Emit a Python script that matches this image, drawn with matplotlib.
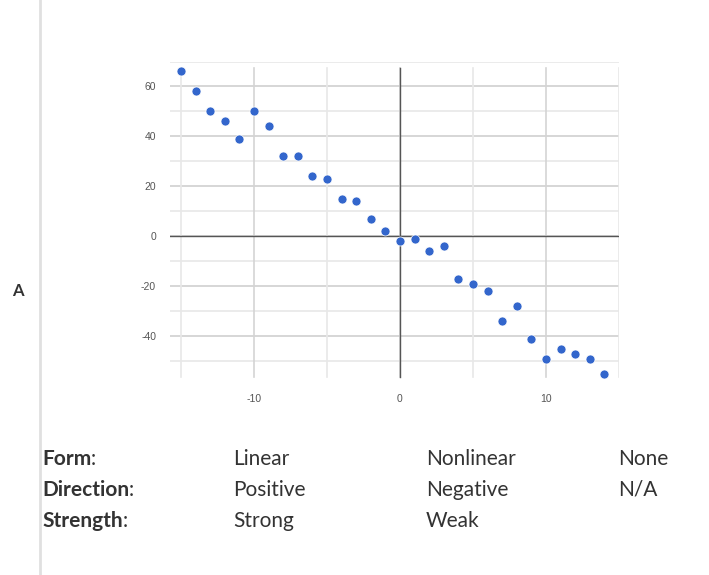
import matplotlib.pyplot as plt
import numpy as np

plt.rcParams['axes.unicode_minus'] = False

# scatter data
x_vals = list(range(-15, 15))
y_vals = [66, 58, 50, 46, 39, 50, 44, 32, 32, 24, 23, 15, 14, 7, 2,
          -2, -1, -6, -4, -17, -19, -22, -34, -28, -41, -49, -45, -47, -49, -55]

y_ticks = [-40, -20, 0, 20, 40, 60]
x_ticks = [-10, 0, 10]

row_labels = ['Form', 'Direction', 'Strength']
choices = [['Linear', 'Nonlinear', 'None'],
           ['Positive', 'Negative', 'N/A'],
           ['Strong', 'Weak', '']]

W, H = 709, 575
fig = plt.figure(figsize=(W / 100, H / 100), dpi=100)

# axes placed in pixel terms
left, right, top, bottom = 170, 619, 62, 380
ax = fig.add_axes([left / W, 1 - bottom / H, (right - left) / W, (bottom - top) / H])
ax.set_xlim(-15.75, 15.0)
ax.set_ylim(-57.6, 69.8)

# grid: light every 10 / 5, darker at labelled ticks
for yv in range(-50, 71, 10):
    c = '#cfcfcf' if yv % 20 == 0 else '#e8e8e8'
    ax.axhline(yv, color=c, lw=1.2, zorder=0)
for xv in range(-15, 16, 5):
    c = '#d4d4d4' if xv % 10 == 0 else '#e8e8e8'
    ax.axvline(xv, ymin=0.01, ymax=0.98, color=c, lw=1.2, zorder=0)
ax.axhline(0, color='#555555', lw=1.0, zorder=1)
ax.axvline(0, ymin=0.01, ymax=0.98, color='#555555', lw=1.0, zorder=1)

ax.scatter(x_vals, y_vals, s=42, color='#3366cc', edgecolors='white',
           linewidths=0.5, zorder=3)

ax.set_xticks(x_ticks)
ax.set_yticks(y_ticks)
ax.tick_params(length=0, labelsize=7.5, labelcolor='#555555', pad=10)
for lbl in ax.get_xticklabels() + ax.get_yticklabels():
    lbl.set_family('Liberation Sans')
for s in ax.spines.values():
    s.set_visible(False)

# page decorations
fig.add_artist(plt.Line2D([40 / W, 40 / W], [0, 1], color='#e0e0e0', lw=2))
fig.text(18 / W, 1 - 291 / H, 'A', fontsize=12, fontweight='bold',
         color='#333333', ha='center', va='center', family='Lato')

# Form / Direction / Strength table
renderer = fig.canvas.get_renderer()
col_x = [233, 426, 618]
row_y = [459, 490, 521]
for lab, opts, ry in zip(row_labels, choices, row_y):
    t = fig.text(42 / W, 1 - ry / H, lab, fontsize=15, fontweight='bold',
                 color='#333333', va='center', family='Lato')
    bb = t.get_window_extent(renderer)
    fig.text(bb.x1 / W, 1 - ry / H, ':', fontsize=15, color='#333333',
             va='center', family='Lato')
    for cx, o in zip(col_x, opts):
        fig.text(cx / W, 1 - ry / H, o, fontsize=15, color='#333333',
                 va='center', family='Lato')

fig.savefig('out.png', dpi=100)
